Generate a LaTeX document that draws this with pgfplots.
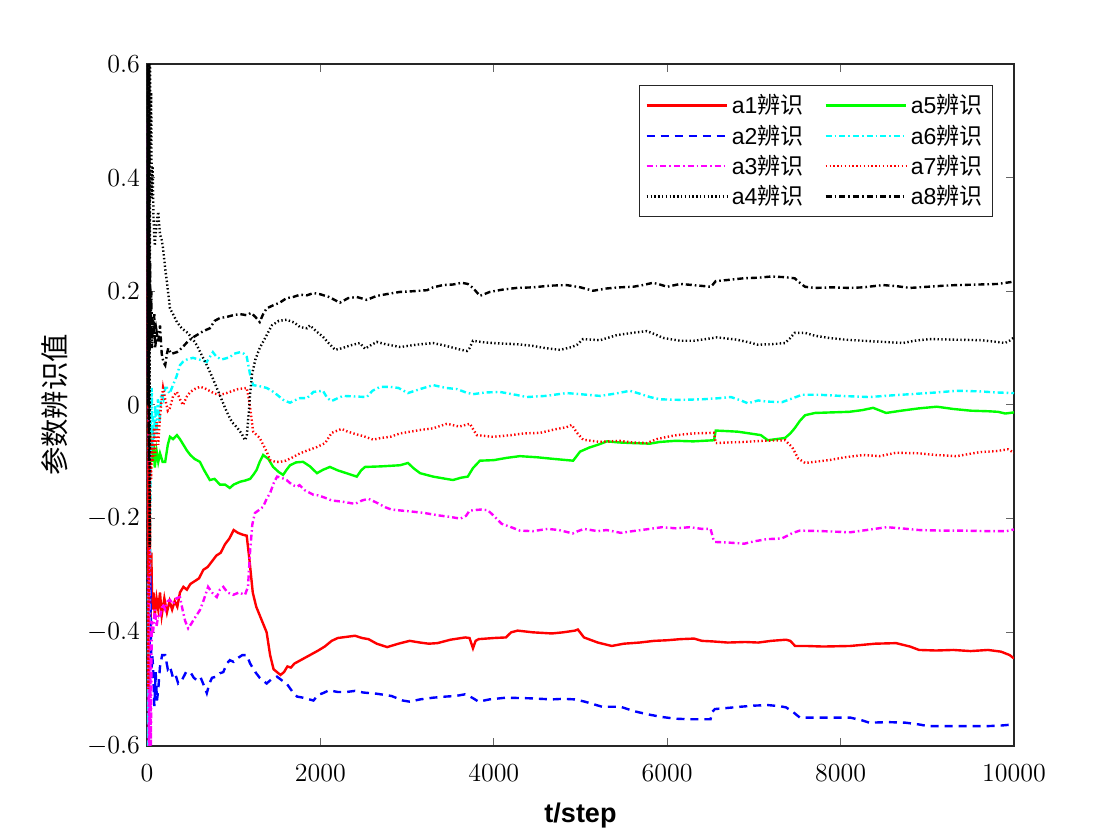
\RequirePackage{fix-cm}
\documentclass[border=0pt]{standalone}
\usepackage{fontspec}
\setsansfont{Liberation Sans}
\newfontfamily\cjk{Noto Sans CJK SC}
\usepackage{pgfplots}
\pgfplotsset{compat=1.18}
\definecolor{mred}{rgb}{1,0,0}
\definecolor{mblue}{rgb}{0,0,1}
\definecolor{mmag}{rgb}{1,0,1}
\definecolor{mgreen}{rgb}{0,1,0}
\definecolor{mcyan}{rgb}{0,1,1}
\begin{document}
\begin{tikzpicture}
\useasboundingbox (-73.5pt,-47pt) rectangle (486.5pt,373pt);
\begin{axis}[
  scale only axis, width=433.5pt, height=341pt,
  at={(0,0)}, anchor=south west,
  xmin=0, xmax=10000, ymin=-0.6, ymax=0.6,
  xtick={0,2000,4000,6000,8000,10000},
  ytick={-0.6,-0.4,-0.2,0,0.2,0.4,0.6},
  scaled x ticks=false,
  xticklabel style={/pgf/number format/1000 sep={}, yshift=-6pt},
  yticklabel style={/pgf/number format/fixed, /pgf/number format/precision=1},
  tick label style={font=\fontsize{13}{15}\selectfont},
  major tick length=4pt,
  every tick/.style={black!60, line width=0.5pt},
  axis line style={black!85, line width=0.6pt},
  xlabel={\sffamily\bfseries t/step},
  xlabel style={at={(axis description cs:0.5,0)}, anchor=base, yshift=-38.5pt, font=\fontsize{13.5}{15}\selectfont},
  ylabel={\cjk 参数辨识值},
  ylabel style={at={([xshift=-46pt]axis description cs:0,0.5)}, anchor=center, font=\fontsize{14.2}{16}\selectfont},
  legend columns=2,
  legend cell align=left,
  legend image code/.code={\draw[#1] (0pt,0pt) -- (40pt,0pt);},
  legend style={at={(1,1)}, anchor=north east, xshift=-10.5pt, yshift=-10.5pt,
    draw=black!85, line width=0.5pt, font=\sffamily\fontsize{11.5}{13}\selectfont,
    inner xsep=3pt, inner ysep=2.5pt,
    /tikz/every even column/.append style={column sep=8.5pt}},
  every axis plot/.append style={line width=1.2pt},
]
% a1
\addplot[mred, solid] coordinates {(0,0.0)(6,0.3)(12,-0.25)(18,0.05)(25,-0.32)(32,-0.2)(40,-0.4)(50,-0.26)(60,-0.36)(75,-0.33)(90,-0.37)(110,-0.34)(130,-0.36)(150,-0.33)(170,-0.37)(200,-0.34)(230,-0.365)(260,-0.345)(290,-0.36)(320,-0.345)(350,-0.355)(380,-0.33)(420,-0.32)(460,-0.325)(500,-0.315)(550,-0.31)(600,-0.305)(650,-0.29)(700,-0.285)(750,-0.275)(800,-0.265)(850,-0.26)(900,-0.245)(950,-0.235)(1000,-0.22)(1050,-0.225)(1100,-0.228)(1150,-0.23)(1180,-0.27)(1220,-0.33)(1260,-0.355)(1300,-0.37)(1340,-0.385)(1380,-0.40)(1420,-0.44)(1460,-0.465)(1500,-0.47)(1540,-0.475)(1580,-0.47)(1620,-0.46)(1660,-0.462)(1700,-0.455)(1760,-0.45)(1820,-0.445)(1880,-0.44)(1975,-0.432)(2050,-0.425)(2130,-0.415)(2200,-0.41)(2300,-0.408)(2400,-0.406)(2480,-0.41)(2555,-0.412)(2650,-0.42)(2770,-0.426)(2900,-0.42)(3030,-0.415)(3150,-0.418)(3250,-0.42)(3350,-0.419)(3500,-0.413)(3670,-0.409)(3720,-0.41)(3760,-0.428)(3790,-0.415)(3825,-0.412)(4000,-0.41)(4140,-0.409)(4200,-0.4)(4275,-0.397)(4450,-0.4)(4670,-0.402)(4800,-0.4)(4935,-0.397)(4970,-0.395)(5040,-0.409)(5200,-0.418)(5360,-0.424)(5500,-0.42)(5680,-0.418)(5850,-0.415)(5995,-0.414)(6150,-0.412)(6310,-0.411)(6400,-0.415)(6525,-0.416)(6700,-0.418)(6900,-0.417)(7050,-0.418)(7200,-0.415)(7370,-0.413)(7420,-0.415)(7475,-0.424)(7600,-0.424)(7800,-0.425)(8110,-0.424)(8400,-0.42)(8640,-0.419)(8800,-0.425)(8905,-0.431)(9100,-0.432)(9300,-0.431)(9500,-0.433)(9700,-0.431)(9850,-0.434)(9950,-0.44)(10000,-0.446)};
\addlegendentry{a1{\cjk 辨识}}
% a5
\addplot[mgreen, solid] coordinates {(0,0)(8,-0.2)(15,0.1)(22,-0.15)(30,-0.03)(40,-0.1)(50,-0.06)(60,-0.1)(75,-0.07)(90,-0.11)(110,-0.08)(130,-0.1)(150,-0.085)(180,-0.1)(210,-0.10)(240,-0.07)(265,-0.056)(300,-0.06)(345,-0.053)(380,-0.06)(420,-0.07)(460,-0.08)(500,-0.088)(550,-0.095)(610,-0.10)(660,-0.115)(725,-0.132)(780,-0.13)(840,-0.14)(900,-0.14)(955,-0.146)(1000,-0.14)(1075,-0.135)(1130,-0.133)(1190,-0.13)(1230,-0.122)(1265,-0.114)(1300,-0.1)(1340,-0.088)(1400,-0.095)(1455,-0.109)(1520,-0.118)(1570,-0.123)(1610,-0.114)(1650,-0.106)(1720,-0.101)(1800,-0.10)(1880,-0.108)(1960,-0.12)(2030,-0.114)(2110,-0.109)(2200,-0.115)(2300,-0.12)(2420,-0.126)(2470,-0.115)(2515,-0.109)(2700,-0.108)(2920,-0.106)(3010,-0.102)(3080,-0.112)(3150,-0.12)(3300,-0.126)(3450,-0.13)(3530,-0.132)(3620,-0.128)(3700,-0.126)(3760,-0.111)(3840,-0.098)(4000,-0.097)(4150,-0.093)(4300,-0.09)(4500,-0.092)(4700,-0.095)(4915,-0.098)(4995,-0.082)(5100,-0.075)(5200,-0.07)(5305,-0.064)(5450,-0.066)(5605,-0.067)(5800,-0.068)(5915,-0.065)(6100,-0.063)(6300,-0.064)(6540,-0.062)(6560,-0.045)(6700,-0.046)(6815,-0.047)(6950,-0.05)(7080,-0.053)(7160,-0.062)(7260,-0.06)(7360,-0.058)(7420,-0.05)(7470,-0.041)(7530,-0.028)(7590,-0.018)(7705,-0.014)(7900,-0.013)(8100,-0.012)(8250,-0.009)(8375,-0.005)(8525,-0.014)(8700,-0.01)(8900,-0.006)(9110,-0.003)(9300,-0.007)(9500,-0.01)(9700,-0.011)(9815,-0.012)(9900,-0.015)(10000,-0.013)};
\addlegendentry{a5{\cjk 辨识}}
% a2
\addplot[mblue, dash pattern=on 4pt off 3pt] coordinates {(0,-0.1)(10,-0.35)(20,-0.28)(30,-0.45)(40,-0.3)(50,-0.48)(60,-0.44)(70,-0.46)(85,-0.53)(100,-0.47)(115,-0.52)(130,-0.5)(150,-0.46)(175,-0.44)(210,-0.44)(240,-0.465)(265,-0.46)(300,-0.48)(330,-0.475)(360,-0.49)(400,-0.485)(450,-0.47)(500,-0.47)(540,-0.48)(580,-0.485)(620,-0.48)(660,-0.495)(690,-0.507)(720,-0.49)(750,-0.48)(800,-0.478)(840,-0.472)(880,-0.47)(920,-0.455)(955,-0.449)(1000,-0.452)(1050,-0.445)(1100,-0.44)(1150,-0.44)(1190,-0.455)(1250,-0.47)(1300,-0.48)(1380,-0.49)(1440,-0.482)(1500,-0.478)(1560,-0.485)(1610,-0.49)(1680,-0.505)(1730,-0.513)(1800,-0.515)(1920,-0.52)(1975,-0.51)(2030,-0.507)(2100,-0.502)(2200,-0.505)(2300,-0.505)(2400,-0.503)(2500,-0.506)(2650,-0.508)(2820,-0.512)(2950,-0.52)(3030,-0.522)(3150,-0.518)(3300,-0.515)(3450,-0.513)(3560,-0.512)(3670,-0.509)(3750,-0.515)(3825,-0.522)(3950,-0.518)(4140,-0.515)(4400,-0.516)(4670,-0.518)(4800,-0.517)(4935,-0.518)(5050,-0.522)(5250,-0.531)(5465,-0.531)(5600,-0.538)(5680,-0.541)(5800,-0.545)(5940,-0.549)(6100,-0.552)(6260,-0.553)(6400,-0.553)(6500,-0.553)(6520,-0.54)(6550,-0.535)(6700,-0.533)(6840,-0.531)(7000,-0.529)(7160,-0.528)(7300,-0.53)(7370,-0.532)(7450,-0.54)(7530,-0.55)(7800,-0.55)(8110,-0.55)(8250,-0.555)(8330,-0.559)(8550,-0.558)(8750,-0.559)(8900,-0.562)(9010,-0.565)(9300,-0.565)(9700,-0.565)(9850,-0.564)(10000,-0.562)};
\addlegendentry{a2{\cjk 辨识}}
% a6
\addplot[mcyan, dash pattern=on 3pt off 1.5pt on 0.8pt off 1.5pt] coordinates {(0,0)(5,-0.3)(10,-0.6)(18,-0.35)(25,-0.6)(32,-0.4)(40,-0.1)(48,-0.02)(55,0.03)(62,-0.08)(70,-0.02)(80,-0.06)(95,0.0)(110,-0.05)(125,0.01)(145,-0.03)(165,0.02)(190,0.01)(210,0.03)(230,0.03)(260,0.02)(300,0.035)(340,0.05)(380,0.07)(415,0.076)(460,0.08)(530,0.083)(600,0.08)(690,0.076)(760,0.093)(800,0.085)(860,0.08)(955,0.084)(1000,0.09)(1075,0.093)(1120,0.09)(1150,0.085)(1190,0.053)(1225,0.035)(1300,0.033)(1380,0.03)(1440,0.025)(1500,0.018)(1580,0.008)(1650,0.004)(1700,0.008)(1765,0.012)(1845,0.012)(1920,0.023)(2030,0.025)(2080,0.012)(2130,0.007)(2200,0.012)(2260,0.016)(2400,0.015)(2535,0.014)(2600,0.025)(2690,0.032)(2800,0.032)(2900,0.03)(3010,0.021)(3150,0.028)(3300,0.035)(3450,0.03)(3575,0.028)(3680,0.022)(3760,0.019)(3900,0.022)(4070,0.023)(4250,0.018)(4380,0.014)(4600,0.016)(4840,0.021)(5000,0.019)(5225,0.016)(5400,0.02)(5570,0.025)(5680,0.02)(5800,0.014)(5915,0.01)(6150,0.009)(6400,0.01)(6600,0.012)(6735,0.014)(6850,0.008)(6930,0.003)(7050,0.008)(7150,0.006)(7325,0.005)(7450,0.012)(7555,0.018)(7750,0.018)(8000,0.016)(8330,0.014)(8600,0.017)(8900,0.02)(9100,0.022)(9340,0.025)(9600,0.024)(9800,0.022)(10000,0.021)};
\addlegendentry{a6{\cjk 辨识}}
% a3
\addplot[mmag, dash pattern=on 3pt off 1.5pt on 0.8pt off 1.5pt] coordinates {(0,0)(5,0.5)(10,-0.2)(15,0.3)(20,-0.6)(25,-0.1)(30,-0.6)(38,-0.45)(45,-0.6)(55,-0.38)(70,-0.40)(90,-0.36)(110,-0.39)(130,-0.37)(150,-0.373)(180,-0.35)(210,-0.36)(240,-0.345)(265,-0.343)(300,-0.35)(340,-0.34)(380,-0.338)(410,-0.36)(440,-0.38)(475,-0.393)(510,-0.385)(550,-0.375)(610,-0.361)(650,-0.345)(705,-0.32)(750,-0.33)(805,-0.338)(840,-0.325)(880,-0.32)(930,-0.33)(995,-0.334)(1060,-0.33)(1130,-0.334)(1165,-0.32)(1190,-0.255)(1215,-0.21)(1245,-0.19)(1290,-0.185)(1340,-0.179)(1380,-0.165)(1420,-0.155)(1460,-0.138)(1500,-0.126)(1550,-0.128)(1610,-0.132)(1670,-0.14)(1730,-0.144)(1760,-0.141)(1820,-0.15)(1920,-0.158)(1975,-0.159)(2050,-0.163)(2130,-0.168)(2250,-0.17)(2400,-0.174)(2480,-0.168)(2555,-0.165)(2650,-0.172)(2750,-0.18)(2820,-0.184)(2950,-0.186)(3085,-0.188)(3200,-0.19)(3350,-0.194)(3500,-0.197)(3615,-0.20)(3680,-0.195)(3720,-0.186)(3770,-0.185)(3850,-0.184)(3930,-0.185)(4000,-0.195)(4090,-0.209)(4200,-0.215)(4300,-0.221)(4450,-0.222)(4620,-0.218)(4750,-0.22)(4910,-0.226)(4970,-0.222)(5040,-0.218)(5200,-0.222)(5300,-0.22)(5465,-0.225)(5600,-0.222)(5800,-0.218)(5940,-0.215)(6100,-0.217)(6260,-0.215)(6400,-0.218)(6500,-0.218)(6530,-0.235)(6550,-0.241)(6700,-0.242)(6890,-0.244)(7000,-0.24)(7150,-0.236)(7320,-0.235)(7450,-0.225)(7530,-0.221)(7800,-0.222)(8110,-0.224)(8300,-0.22)(8530,-0.215)(8700,-0.217)(8900,-0.22)(9165,-0.221)(9400,-0.221)(9700,-0.222)(9910,-0.222)(10000,-0.219)};
\addlegendentry{a3{\cjk 辨识}}
% a7
\addplot[mred, dash pattern=on 0.7pt off 1.2pt] coordinates {(0,0)(5,-0.3)(10,0.2)(15,-0.5)(20,-0.1)(25,-0.35)(30,-0.15)(35,-0.25)(40,-0.05)(48,-0.13)(55,-0.06)(65,-0.1)(80,-0.04)(95,-0.09)(110,-0.03)(130,-0.07)(150,-0.02)(170,0.01)(185,0.03)(210,0.01)(240,-0.01)(265,-0.005)(300,0.015)(345,0.023)(380,0.01)(415,0.0)(460,0.015)(500,0.023)(550,0.028)(610,0.032)(660,0.03)(720,0.025)(780,0.02)(840,0.018)(900,0.02)(955,0.023)(1050,0.028)(1150,0.03)(1170,0.015)(1190,-0.005)(1225,-0.047)(1260,-0.052)(1300,-0.058)(1340,-0.07)(1380,-0.082)(1420,-0.097)(1480,-0.1)(1535,-0.10)(1600,-0.098)(1680,-0.092)(1765,-0.085)(1850,-0.08)(1960,-0.074)(2055,-0.067)(2130,-0.049)(2245,-0.042)(2300,-0.046)(2380,-0.05)(2500,-0.055)(2610,-0.061)(2700,-0.058)(2805,-0.056)(2920,-0.05)(3035,-0.047)(3150,-0.044)(3300,-0.041)(3460,-0.033)(3600,-0.038)(3725,-0.033)(3770,-0.045)(3805,-0.053)(3990,-0.056)(4200,-0.053)(4350,-0.05)(4535,-0.049)(4700,-0.043)(4840,-0.039)(4900,-0.035)(4960,-0.049)(5030,-0.061)(5225,-0.065)(5450,-0.063)(5600,-0.066)(5765,-0.067)(5880,-0.06)(6000,-0.056)(6110,-0.053)(6300,-0.05)(6540,-0.049)(6560,-0.067)(6700,-0.066)(6885,-0.065)(7100,-0.063)(7360,-0.062)(7440,-0.074)(7510,-0.094)(7590,-0.102)(7700,-0.1)(7865,-0.097)(8050,-0.092)(8260,-0.088)(8450,-0.09)(8640,-0.084)(8900,-0.085)(9100,-0.088)(9340,-0.09)(9600,-0.083)(9800,-0.081)(9930,-0.078)(10000,-0.084)};
\addlegendentry{a7{\cjk 辨识}}
% a4
\addplot[black, dash pattern=on 0.7pt off 1.2pt] coordinates {(0,0.1)(5,0.6)(10,0.2)(15,0.6)(20,0.0)(25,0.6)(30,-0.25)(35,0.6)(40,0.45)(48,0.55)(55,0.364)(65,0.42)(75,0.33)(90,0.28)(110,0.32)(130,0.34)(150,0.3)(170,0.29)(185,0.276)(210,0.24)(230,0.216)(250,0.19)(265,0.17)(300,0.16)(345,0.146)(400,0.135)(460,0.128)(520,0.118)(575,0.105)(630,0.088)(690,0.07)(750,0.05)(805,0.03)(860,0.01)(920,-0.012)(980,-0.03)(1040,-0.04)(1090,-0.05)(1130,-0.062)(1150,-0.055)(1165,-0.03)(1190,0.02)(1210,0.053)(1250,0.08)(1300,0.10)(1370,0.12)(1440,0.14)(1520,0.148)(1610,0.15)(1700,0.145)(1765,0.137)(1845,0.135)(1880,0.14)(1950,0.13)(2030,0.12)(2100,0.108)(2170,0.097)(2250,0.1)(2350,0.105)(2455,0.109)(2515,0.099)(2580,0.105)(2650,0.111)(2750,0.107)(2920,0.102)(3100,0.106)(3300,0.109)(3450,0.104)(3600,0.098)(3690,0.095)(3720,0.1)(3760,0.113)(3900,0.11)(4100,0.108)(4265,0.107)(4450,0.104)(4600,0.1)(4765,0.097)(4900,0.102)(4960,0.106)(5030,0.116)(5225,0.114)(5420,0.123)(5600,0.127)(5765,0.13)(5850,0.125)(5955,0.118)(6150,0.113)(6305,0.113)(6450,0.116)(6575,0.119)(6800,0.115)(6950,0.11)(7045,0.106)(7200,0.107)(7360,0.109)(7420,0.118)(7470,0.127)(7590,0.127)(7700,0.122)(7865,0.118)(8050,0.115)(8260,0.113)(8500,0.111)(8720,0.109)(8850,0.113)(9030,0.116)(9300,0.115)(9620,0.114)(9800,0.111)(9895,0.109)(9960,0.114)(10000,0.119)};
\addlegendentry{a4{\cjk 辨识}}
% a8
\addplot[black, dash pattern=on 3pt off 1.5pt on 0.8pt off 1.5pt] coordinates {(0,0.1)(5,0.6)(10,0.0)(15,0.5)(20,-0.1)(25,0.6)(30,0.1)(36,0.25)(42,0.12)(50,0.2)(58,0.1)(66,0.15)(75,0.12)(85,0.16)(95,0.1)(110,0.13)(130,0.11)(150,0.14)(170,0.09)(190,0.075)(210,0.07)(230,0.09)(245,0.10)(280,0.09)(345,0.093)(400,0.1)(460,0.11)(520,0.118)(575,0.123)(650,0.13)(725,0.135)(780,0.148)(840,0.153)(920,0.155)(995,0.158)(1070,0.16)(1150,0.158)(1200,0.162)(1250,0.155)(1300,0.146)(1340,0.16)(1380,0.17)(1450,0.175)(1530,0.18)(1610,0.188)(1685,0.19)(1765,0.194)(1845,0.193)(1920,0.197)(1995,0.195)(2100,0.19)(2225,0.18)(2320,0.188)(2420,0.19)(2535,0.185)(2650,0.192)(2800,0.196)(2920,0.199)(3050,0.2)(3230,0.202)(3300,0.207)(3415,0.211)(3530,0.212)(3630,0.215)(3700,0.213)(3760,0.206)(3840,0.192)(3955,0.199)(4100,0.203)(4265,0.206)(4450,0.207)(4650,0.21)(4840,0.211)(5000,0.207)(5145,0.201)(5300,0.205)(5450,0.207)(5605,0.208)(5720,0.211)(5835,0.215)(5915,0.212)(6000,0.208)(6150,0.213)(6300,0.211)(6505,0.208)(6560,0.218)(6700,0.22)(6885,0.223)(7050,0.224)(7195,0.226)(7350,0.225)(7470,0.223)(7530,0.215)(7590,0.208)(7705,0.206)(7900,0.207)(8100,0.206)(8260,0.207)(8490,0.211)(8650,0.209)(8800,0.206)(9000,0.208)(9200,0.21)(9340,0.211)(9600,0.212)(9815,0.213)(9950,0.216)(10000,0.217)};
\addlegendentry{a8{\cjk 辨识}}
\end{axis}
\end{tikzpicture}
\end{document}
